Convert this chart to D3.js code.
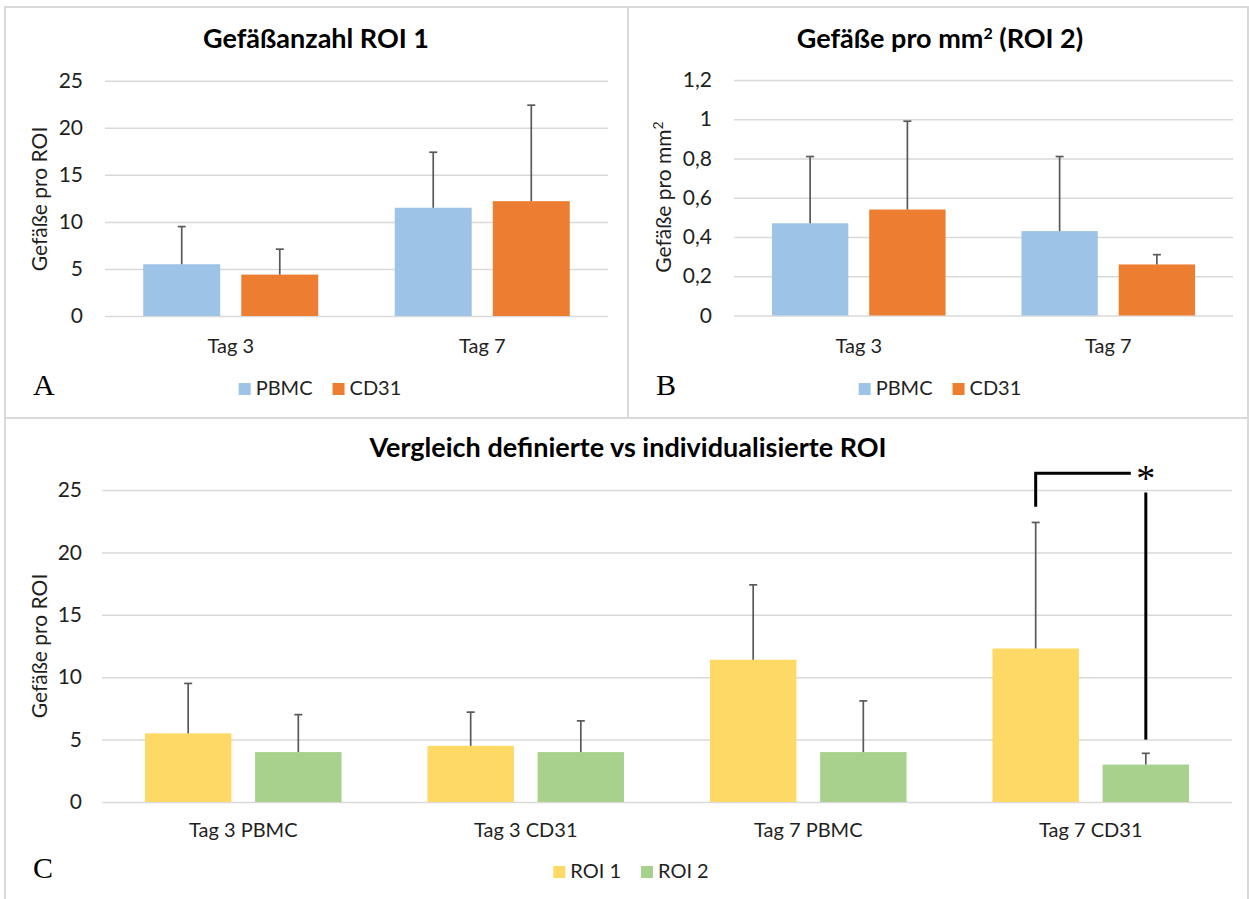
<!DOCTYPE html>
<html>
<head>
<meta charset="utf-8">
<script src="https://cdn.jsdelivr.net/npm/d3@7"></script>
<style>
  body { margin: 0; background: #fff; }
  svg { display: block; font-family: Lato, "Open Sans", sans-serif; }
</style>
</head>
<body>
<svg id="chart"></svg>
<script>
// ---- data ----
const daysAB = ["Tag 3", "Tag 7"];
const cellSeries = ["PBMC", "CD31"];
const roi1Count = [5.5, 4.4];      // Tag 3: PBMC, CD31
const roi1CountT7 = [11.5, 12.2];  // Tag 7: PBMC, CD31
const roi1CountErr = [9.5, 7.1];   // upper error end, Tag 3
const roi1CountErrT7 = [17.4, 22.4];
const roi2Density = [0.47, 0.54];
const roi2DensityT7 = [0.43, 0.26];
const roi2DensityErr = [0.81, 0.99];
const roi2DensityErrT7 = [0.81, 0.31];

const groupsC = ["Tag 3 PBMC", "Tag 3 CD31", "Tag 7 PBMC", "Tag 7 CD31"];
const roiSeries = ["ROI 1", "ROI 2"];
const roi1Values = [5.5, 4.5, 11.4, 12.3];
const roi1Err = [9.5, 7.2, 17.4, 22.4];
const roi2Values = [4.0, 4.0, 4.0, 3.0];
const roi2Err = [7.0, 6.5, 8.1, 3.9];

const ticksCount = [0, 5, 10, 15, 20, 25];
const ticksDensity = [0, 0.2, 0.4, 0.6, 0.8, 1, 1.2];

// significance bracket (data units) between ROI 1 and ROI 2 of Tag 7 CD31
const sig = { group: "Tag 7 CD31", top: 26.35, leftEnd: 23.65, rightStart: 24.8, rightEnd: 5, label: "*" };

const colors = { PBMC: "#9DC3E6", CD31: "#ED7D31", "ROI 1": "#FFD966", "ROI 2": "#A9D18E" };

// ---- layout ----
const width = 1249, height = 899;
const gridColor = "#D9D9D9", textColor = "#1f1f1f", errColor = "#595959";
const fontSize = 20;

const svg = d3.select("#chart").attr("width", width).attr("height", height);
const de = d3.formatLocale({ decimal: ",", thousands: ".", grouping: [3], currency: ["", "€"] });

function rows(groups, series, vals, errs) {
  // vals/errs: arrays per group of per-series values
  return groups.flatMap((g, gi) => series.map((s, si) => ({ g, s, v: vals[gi][si], e: errs[gi][si] })));
}

function panel(cfg) {
  const g = svg.append("g");

  g.append("rect")
    .attr("x", cfg.box[0]).attr("y", cfg.box[1])
    .attr("width", cfg.box[2] - cfg.box[0]).attr("height", cfg.box[3] - cfg.box[1])
    .attr("fill", "none").attr("stroke", gridColor).attr("stroke-width", 2);

  const x = d3.scaleBand(cfg.groups, [cfg.x0, cfg.x1]);
  const xs = d3.scaleBand(cfg.series, [0, x.bandwidth()]).paddingInner(0.215).paddingOuter(0.39);
  const y = d3.scaleLinear([0, d3.max(cfg.ticks)], [cfg.yBot, cfg.yTop]);

  // grid
  g.append("g")
    .attr("transform", `translate(${cfg.x0},0)`)
    .call(d3.axisLeft(y).tickValues(cfg.ticks).tickSize(-(cfg.x1 - cfg.x0)).tickPadding(cfg.x0 - cfg.tickRight).tickFormat(cfg.fmt))
    .call(a => a.select(".domain").remove())
    .call(a => a.selectAll(".tick line").attr("stroke", gridColor).attr("stroke-width", 1.5))
    .call(a => a.selectAll(".tick text").attr("fill", textColor).style("font-size", "21px")
      .style("font-family", "Lato, sans-serif"));

  // bars
  const data = cfg.data;
  g.append("g").selectAll("rect").data(data).join("rect")
    .attr("x", d => x(d.g) + xs(d.s))
    .attr("width", xs.bandwidth())
    .attr("y", d => y(d.v))
    .attr("height", d => y(0) - y(d.v))
    .attr("fill", d => colors[d.s]);

  // error bars (plus only)
  const eb = g.append("g").attr("stroke", errColor).attr("stroke-width", 1.7);
  eb.selectAll("line.v").data(data).join("line").attr("class", "v")
    .attr("x1", d => x(d.g) + xs(d.s) + xs.bandwidth() / 2)
    .attr("x2", d => x(d.g) + xs(d.s) + xs.bandwidth() / 2)
    .attr("y1", d => y(d.v)).attr("y2", d => y(d.e));
  eb.selectAll("line.c").data(data).join("line").attr("class", "c")
    .attr("x1", d => x(d.g) + xs(d.s) + xs.bandwidth() / 2 - 4)
    .attr("x2", d => x(d.g) + xs(d.s) + xs.bandwidth() / 2 + 4)
    .attr("y1", d => y(d.e)).attr("y2", d => y(d.e));

  // category labels
  g.append("g").selectAll("text").data(cfg.groups).join("text")
    .attr("x", d => x(d) + x.bandwidth() / 2)
    .attr("y", cfg.catY)
    .attr("text-anchor", "middle")
    .attr("fill", textColor)
    .style("font-size", fontSize + "px")
    .text(d => d);

  // title
  const t = g.append("text")
    .attr("x", cfg.titleX).attr("y", cfg.titleY)
    .attr("text-anchor", "middle")
    .attr("fill", "#000")
    .style("font-size", "27px").style("font-weight", 700);
  cfg.title.forEach(p => t.append("tspan").text(p.t)
    .attr("baseline-shift", p.sup ? "super" : null)
    .style("font-size", p.sup ? "16px" : null));

  // y label
  const yl = g.append("text")
    .attr("transform", `translate(${cfg.yLabelX},${cfg.yLabelY}) rotate(-90)`)
    .attr("text-anchor", "middle")
    .attr("fill", textColor)
    .style("font-size", "21px");
  cfg.yLabel.forEach(p => yl.append("tspan").text(p.t)
    .attr("baseline-shift", p.sup ? "super" : null)
    .style("font-size", p.sup ? "14px" : null));

  // legend
  const lg = g.append("g");
  let cx = 0;
  cfg.series.forEach(s => {
    const item = lg.append("g").attr("transform", `translate(${cx},0)`);
    item.append("rect").attr("x", 0).attr("y", -12).attr("width", 12).attr("height", 12).attr("fill", colors[s]);
    const tx = item.append("text").attr("x", 17).attr("y", 0).attr("fill", textColor)
      .style("font-size", fontSize + "px").text(s);
    cx += 17 + tx.node().getComputedTextLength() + 20;
  });
  const lw = cx - 20;
  lg.attr("transform", `translate(${cfg.legendX - lw / 2},${cfg.legendY})`);

  // panel letter
  g.append("text")
    .attr("x", cfg.letterX).attr("y", cfg.legendY)
    .attr("fill", "#000")
    .style("font-family", "'Liberation Serif', 'DejaVu Serif', serif")
    .style("font-size", "30px")
    .text(cfg.letter);

  return { g, x, xs, y };
}

panel({
  box: [5, 7, 628, 418], letter: "A",
  groups: daysAB, series: cellSeries,
  data: rows(daysAB, cellSeries, [roi1Count, roi1CountT7], [roi1CountErr, roi1CountErrT7]),
  ticks: ticksCount, fmt: d3.format("d"),
  x0: 105, x1: 608, yTop: 80.7, yBot: 316, tickRight: 83,
  title: [{ t: "Gefäßanzahl ROI 1" }], titleX: 316, titleY: 48,
  yLabel: [{ t: "Gefäße pro ROI" }], yLabelX: 47, yLabelY: 199,
  catY: 353, legendX: 320, legendY: 395, letterX: 33
});

panel({
  box: [628, 7, 1248, 418], letter: "B",
  groups: daysAB, series: cellSeries,
  data: rows(daysAB, cellSeries, [roi2Density, roi2DensityT7], [roi2DensityErr, roi2DensityErrT7]),
  ticks: ticksDensity, fmt: de.format("~f"),
  x0: 734, x1: 1233, yTop: 80, yBot: 315.5, tickRight: 712,
  title: [{ t: "Gefäße pro mm" }, { t: "2", sup: true }, { t: " (ROI 2)" }], titleX: 940, titleY: 48,
  yLabel: [{ t: "Gefäße pro mm" }, { t: "2", sup: true }], yLabelX: 671, yLabelY: 197,
  catY: 353, legendX: 940, legendY: 395, letterX: 656
});

const pc = panel({
  box: [5, 418, 1248, 905], letter: "C",
  groups: groupsC, series: roiSeries,
  data: rows(groupsC, roiSeries, groupsC.map((_, i) => [roi1Values[i], roi2Values[i]]),
    groupsC.map((_, i) => [roi1Err[i], roi2Err[i]])),
  ticks: ticksCount, fmt: d3.format("d"),
  x0: 102, x1: 1232, yTop: 490, yBot: 802, tickRight: 82,
  title: [{ t: "Vergleich definierte vs individualisierte ROI" }], titleX: 628, titleY: 457,
  yLabel: [{ t: "Gefäße pro ROI" }], yLabelX: 47, yLabelY: 646,
  catY: 837, legendX: 631, legendY: 878, letterX: 33
});

// significance bracket
{
  const { g, x, xs, y } = pc;
  const xl = x(sig.group) + xs("ROI 1") + xs.bandwidth() / 2;
  const xr = x(sig.group) + xs("ROI 2") + xs.bandwidth() / 2;
  const b = g.append("g").attr("stroke", "#000").attr("stroke-width", 3).attr("fill", "none");
  b.append("path").attr("d", `M${xl},${y(sig.leftEnd)}V${y(sig.top)}H${xr - 15}`);
  b.append("line").attr("x1", xr).attr("x2", xr).attr("y1", y(sig.rightStart)).attr("y2", y(sig.rightEnd));
  g.append("text")
    .attr("x", xr).attr("y", y(sig.top) + 18)
    .attr("text-anchor", "middle")
    .style("font-family", "'Liberation Serif', serif")
    .style("font-size", "38px")
    .text(sig.label);
}
</script>
</body>
</html>
